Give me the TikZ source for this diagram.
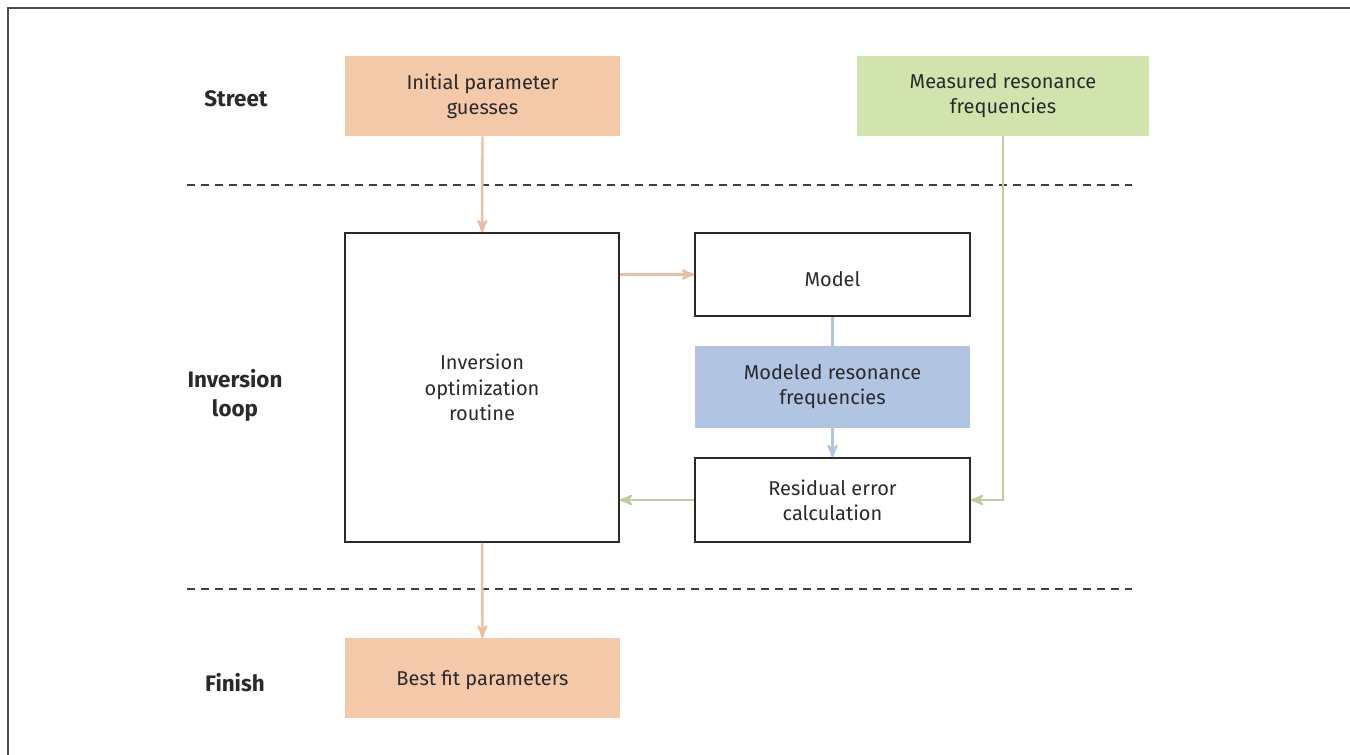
\documentclass[tikz,border=0pt]{standalone}
\usepackage{fontspec}
\setmainfont{Fira Sans}
\usetikzlibrary{arrows}
\usetikzlibrary{shapes}

\definecolor{peach}{HTML}{F4C9AA}
\definecolor{sage}{HTML}{D2E4AE}
\definecolor{steel}{HTML}{B1C4E2}
\definecolor{ink}{HTML}{2A2A2A}

\begin{document}
\begin{tikzpicture}[x = 0.5pt, y = -0.5pt]
\tikzstyle{BoxStyle}=[shape = rectangle,
                      inner sep = 0pt,
                      align = center,
                      text = ink,
                      font = \fontsize{10}{12.6}\selectfont,
                      minimum width = 137.5pt]
\tikzstyle{PlainBox}=[BoxStyle, draw = ink, line width = 0.75pt]
\tikzstyle{RowLabel}=[align = center, text = ink,
                      font = \fontsize{11.2}{14.6}\selectfont\bfseries]
\tikzstyle{Link}=[line width = 1.15pt, -stealth']
\tikzstyle{Divider}=[draw = ink!90, line width = 0.7pt, dash pattern = on 4pt off 3pt]
\useasboundingbox (0,0) rectangle (1350,755);
\draw[ink!85, line width = 1pt] (8,755) -- (8,8) -- (1350,8);
% rows
\node[RowLabel] (street) at (236, 99) {Street};
\node[RowLabel] (loop) at (235, 395) {Inversion\\loop};
\node[RowLabel] (finish) at (235, 683) {Finish};
\coordinate (d1a) at (187, 185);
\coordinate (d1b) at (1132, 185);
\coordinate (d2a) at (187, 589);
\coordinate (d2b) at (1132, 589);
\draw[Divider] (d1a) -- (d1b);
\draw[Divider] (d2a) -- (d2b);
% boxes
\node[BoxStyle, fill = peach, minimum height = 40pt] (init) at (482.5, 96) {Initial parameter\\guesses};
\node[BoxStyle, fill = sage, minimum width = 146pt, minimum height = 40pt] (meas) at (1003, 96) {Measured resonance\\frequencies};
\node[PlainBox, minimum width = 137pt, minimum height = 154.5pt] (inv) at (482, 387.5) {Inversion\\optimization\\routine};
\node[PlainBox, minimum height = 41.5pt, text height = 12pt] (model) at (832.5, 274.5) {Model};
\node[BoxStyle, fill = steel, minimum height = 41pt] (modres) at (832.5, 387) {Modeled resonance\\frequencies};
\node[PlainBox, minimum height = 42pt] (resid) at (832.5, 500) {Residual error\\calculation};
\node[BoxStyle, fill = peach, minimum height = 40pt, text height = 10pt] (best) at (482.5, 678) {Best fit parameters};
% links
\draw[Link, draw = peach!95!black] (init) -- (inv);
\draw[Link, draw = peach!95!black] (inv.east |- model) -- (model.west);
\draw[line width = 1.15pt, draw = steel] (model) -- (modres);
\draw[Link, draw = steel] (modres) -- (resid);
\draw[Link, draw = sage!90!black] (resid.west) -- (resid.west -| inv.east);
\draw[Link, draw = sage!90!black] (meas.south) |- (resid.east);
\draw[Link, draw = peach!95!black] (inv) -- (best);
\end{tikzpicture}
\end{document}
